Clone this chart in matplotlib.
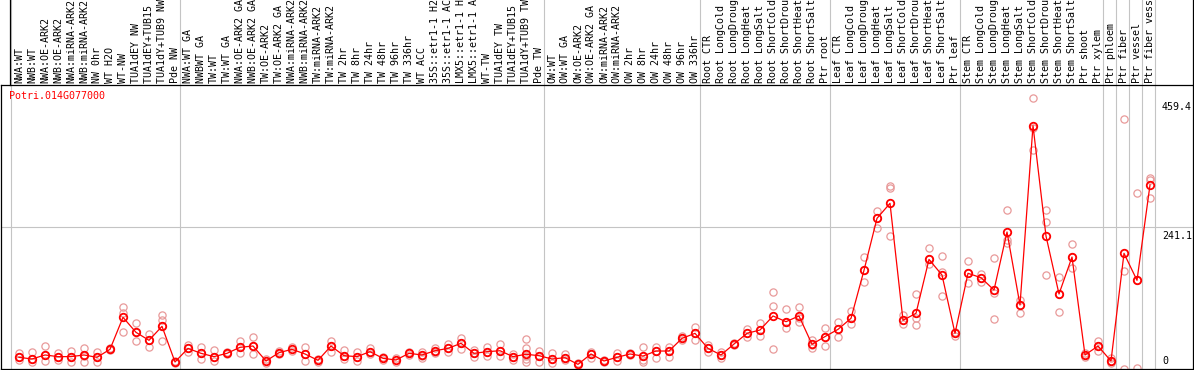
import matplotlib
matplotlib.use("Agg")
import matplotlib.pyplot as plt
import matplotlib.transforms as mtransforms
from matplotlib.lines import Line2D

# ======================
# Data
# ======================
GENE = "Potri.014G077000"

labels = [
    "NWA:WT", "NWB:WT", "NWA:OE-ARK2", "NWB:OE-ARK2", "NWA:miRNA-ARK2", "NWB:miRNA-ARK2",
    "NW 0hr", "WT H2O", "WT-NW", "TUA1dEY NW", "TUA1dEY+TUB15 NW", "TUA1dY+TUB9 NW", "Pde NW",
    "NWA:WT GA", "NWBWT GA", "TW:WT", "TW:WT GA", "NWA:OE-ARK2 GA", "NWB:OE-ARK2 GA",
    "TW:OE-ARK2", "TW:OE-ARK2 GA", "NWA:miRNA-ARK2 GA", "NWB:miRNA-ARK2 GA", "TW:miRNA-ARK2",
    "TW:miRNA-ARK2 GA", "TW 2hr", "TW 8hr", "TW 24hr", "TW 48hr", "TW 96hr", "TW 336hr", "WT ACC",
    "35S::etr1-1 H2O", "35S::etr1-1 ACC", "LMX5::etr1-1 H2O", "LMX5::etr1-1 ACC", "WT-TW",
    "TUA1dEY TW", "TUA1dEY+TUB15 TW", "TUA1dY+TUB9 TW", "Pde TW",
    "OW:WT", "OW:WT GA", "OW:OE-ARK2", "OW:OE-ARK2 GA", "OW:miRNA-ARK2", "OW:miRNA-ARK2 GA",
    "OW 2hr", "OW 8hr", "OW 24hr", "OW 48hr", "OW 96hr", "OW 336hr",
    "Root CTR", "Root LongCold", "Root LongDrought", "Root LongHeat", "Root LongSalt",
    "Root ShortCold", "Root ShortDrought", "Root ShortHeat", "Root ShortSalt", "Ptr root",
    "Leaf CTR", "Leaf LongCold", "Leaf LongDrought", "Leaf LongHeat", "Leaf LongSalt",
    "Leaf ShortCold", "Leaf ShortDrought", "Leaf ShortHeat", "Leaf ShortSalt", "Ptr leaf",
    "Stem CTR", "Stem LongCold", "Stem LongDrought", "Stem LongHeat", "Stem LongSalt",
    "Stem ShortCold", "Stem ShortDrought", "Stem ShortHeat", "Stem ShortSalt", "Ptr shoot",
    "Ptr xylem", "Ptr phloem", "Ptr fiber", "Ptr vessel", "Ptr fiber vessel",
]

means = [
    19.8, 17, 23.8, 21, 21, 23.8, 19.8, 33.4, 87.7, 62.2, 48.7, 72.4, 11.9,
    35, 26.6, 21, 26.6, 36.8, 39, 13.6, 27.7, 33.4, 25.5, 14.7, 39, 22.6, 21, 29.4, 18.1,
    15.3, 26.6, 23.8, 31, 35, 43.6, 26.6, 29.4, 31, 21, 25, 22.6,
    17, 19.2, 7.9, 25.5, 13.6, 19.8, 25.5, 22, 30.5, 30.5, 52, 60.5,
    35, 23.8, 42.4, 60.5, 66.2, 90, 80.3, 90, 41.9, 55,
    67.3, 86, 167.5, 255.7, 281.2, 82.6, 94.5, 186, 159.5, 60.5,
    162.4, 155, 134, 232.5, 108.6, 413, 225.7, 127.3, 190, 23.8,
    39, 13.6, 196.3, 150.5, 312.3,
]

reps = [
    [26.6, 19.8, 15.3], [29.4, 17, 12.4], [39, 23.8, 13.6], [26.6, 21, 15.3], [31, 21, 12.4],
    [35, 22.6, 12.4], [29.4, 21, 12.4], [35, 32], [105, 94.5, 63.4], [78.6, 62.2, 47],
    [59.4, 48.7, 36.8], [91.7, 83, 73, 47.5], [13.6, 9.6],
    [40.7, 35, 29.4], [38, 26.6, 17], [32, 21, 14], [29.4, 25], [48, 36.8, 26.6],
    [53.7, 39, 25], [17, 9.6], [30.5, 25], [36.8, 31], [38, 25, 13.6], [17, 12.4],
    [47.5, 39, 29.4], [32, 22.6, 17], [29.4, 21, 13.6], [35, 29.4, 25], [21, 15.3],
    [19, 11.3], [29.4, 23.8], [29.4, 22.6, 18], [35, 29.4, 26.6], [42.4, 35, 28.3],
    [53, 43.6, 34], [32, 26.6, 21], [36.8, 29.4, 22.6], [41.9, 31, 22.6], [25, 21, 15.3],
    [51, 35, 22, 17, 12], [31, 22.6, 11.3],
    [26.6, 17, 9.6], [25, 19.2, 15.3], [9.6, 6.8], [29.4, 25.5, 18], [15.3, 12.4],
    [27.7, 19.8, 13.6], [27.7, 23.8], [37.3, 22, 15.3, 11.3], [38, 30.5, 18],
    [36.8, 30.5, 19.8], [56.6, 52, 49], [70.7, 60.5, 49],
    [40.7, 35, 29.4], [29.4, 23.8, 19.2], [44.1, 40.7], [67.3, 60.5, 53.7], [78, 66.2, 56],
    [130, 107, 33.4], [101, 80.3, 69], [104.7, 86, 80.3], [49, 40.7, 35], [70, 55, 39.6],
    [79, 67.3, 53.7], [98.4, 86, 76.4], [190.7, 167.5, 147], [268, 255.7, 240],
    [311, 307, 226], [91.7, 82.6, 76.4], [126.7, 86, 74.7], [204.8, 186, 177.6],
    [191.8, 165, 123.3], [62, 56.6],
    [183.3, 162.4, 145.4], [160.7, 153.9, 148.2], [187.8, 128.4, 84.3], [269.3, 219, 213.3],
    [117, 108.6, 95.6], [459.4, 408.5, 371.7], [269.3, 250, 159.5], [155.6, 127.3, 97.3],
    [212, 190.7, 172], [27.7, 23.8, 21], [47.5, 39, 31], [18.1, 13.6, 9.6],
    [424.3, 167, 0], [298, 151, 2.3], [324.8, 320.8, 289.7],
]

# last index of each group (separators drawn after them)
group_ends = [-1, 12, 40, 52, 62, 72, 83, 84, 85, 86, 87]
right_ticks = [459.4, 241.1, 0]
grid_value = 241.1

# ======================
# Layout (pixels)
# ======================
W, H = 1194, 370
AX_L, AX_R, AX_T, AX_B = 1, 1193, 85, 369
LAB_LEFT = 10
MONO = "DejaVu Sans Mono"
FS = 7.2
GREY = "#c4c4c4"
REP_COL = "#e89a9a"

fig = plt.figure(figsize=(W / 100, H / 100), dpi=100)
ax = fig.add_axes([AX_L / W, (H - AX_B) / H, (AX_R - AX_L) / W, (AX_B - AX_T) / H])

n = len(labels)
ax.set_xlim(-(19 - AX_L) / 13, (AX_R - 19) / 13)
ax.set_ylim(0, 482)
ax.set_xticks([])
ax.set_yticks([])
for s in ax.spines.values():
    s.set_color("black")
    s.set_linewidth(0.9)

# grid + group separators (extend up into label band)
ax.axhline(grid_value, color=GREY, lw=0.8, zorder=0.5)
ext = (AX_B - 0) / (AX_B - AX_T)
for b in group_ends:
    ax.axvline(b + 0.42, ymin=0, ymax=ext, color=GREY, lw=0.8, zorder=0.5, clip_on=False)

# label band border
fig.add_artist(Line2D([LAB_LEFT / W, LAB_LEFT / W], [(H - AX_T) / H, 1], color="black", lw=0.9))
fig.add_artist(Line2D([AX_R / W, AX_R / W], [(H - AX_T) / H, 1], color="black", lw=0.9))

# category labels
lab_y = (AX_B - 83) / (AX_B - AX_T)
for i, lab in enumerate(labels):
    ax.text(i, lab_y, lab, transform=ax.get_xaxis_transform(), rotation=90,
            ha="center", va="bottom", fontsize=FS, family=MONO, clip_on=False)

# replicates
for i, r in enumerate(reps):
    ax.plot([i] * len(r), r, "o", mfc="none", mec=REP_COL, ms=5.2, mew=0.9, zorder=2)

# means
xs = list(range(n))
ax.plot(xs, means, "-", color="red", lw=0.9, zorder=3)
ax.plot(xs, means, "o", mfc="none", mec="red", ms=5.4, mew=1.3, zorder=4)

# gene name
ax.text((9 - AX_L) / (AX_R - AX_L), (AX_B - 91) / (AX_B - AX_T), GENE, transform=ax.transAxes,
        ha="left", va="top", fontsize=FS, family=MONO, color="red")

# right-side value labels
tx = (1162 - AX_L) / (AX_R - AX_L)
blend = mtransforms.blended_transform_factory(ax.transAxes, ax.transData)
down = mtransforms.offset_copy(blend, fig=fig, x=0, y=-3, units="points")
up = mtransforms.offset_copy(blend, fig=fig, x=0, y=2, units="points")
for v in right_ticks:
    if v == 0:
        ax.text(tx, v, "0", transform=up, ha="left", va="bottom", fontsize=FS, family=MONO)
    else:
        ax.text(tx, v, f"{v:.1f}", transform=down, ha="left", va="top", fontsize=FS, family=MONO)

fig.savefig("out.png", dpi=100)
